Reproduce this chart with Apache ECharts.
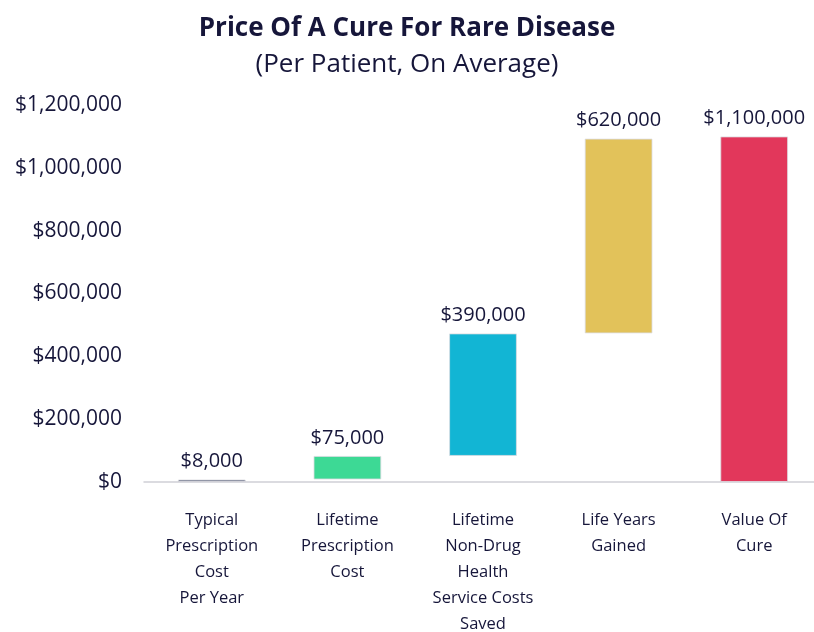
<!DOCTYPE html>
<html>
<head>
<meta charset="utf-8">
<script src="https://cdn.jsdelivr.net/npm/echarts@6/dist/echarts.min.js"></script>
<style>
  html, body { margin: 0; padding: 0; background: #fff; }
  #chart { width: 814px; height: 632px; }
</style>
</head>
<body>
<div id="chart"></div>
<script>
// data
const categories = [
  'Typical\nPrescription\nCost\nPer Year',
  'Lifetime\nPrescription\nCost',
  'Lifetime\nNon-Drug\nHealth\nService Costs\nSaved',
  'Life Years\nGained',
  'Value Of\nCure'
]
const values = [8000, 75000, 390000, 620000, 1100000]
// invisible base each bar floats on (waterfall)
const bases = [0, 8000, 83000, 473000, 0]
const barColors = ['#656b84', '#3dd995', '#12b5d4', '#e2c25a', '#e2375b']
const yTicks = [0, 200000, 400000, 600000, 800000, 1000000, 1200000]

const textColor = '#16163a'
const font = 'Open Sans'

function money(v) {
  return '$' + v.toLocaleString('en-US')
}

const chart = echarts.init(document.getElementById('chart'))

chart.setOption({
  animation: false,
  title: {
    text: 'Price Of A Cure For Rare Disease',
    subtext: '(Per Patient, On Average)',
    left: 'center',
    top: 11,
    itemGap: 10,
    textStyle: { fontFamily: font, fontSize: 26, fontWeight: 'bold', color: textColor },
    subtextStyle: { fontFamily: font, fontSize: 26, color: textColor }
  },
  grid: {
    left: 144,
    top: 105,
    width: 678,
    height: 377,
    containLabel: false,
    outerBoundsMode: 'none'
  },
  xAxis: {
    type: 'category',
    data: categories,
    axisLine: { lineStyle: { color: '#cfd0d6', width: 1.5 } },
    axisTick: { show: false },
    axisLabel: {
      fontFamily: font,
      fontSize: 16.5,
      color: textColor,
      lineHeight: 26,
      margin: 25,
      interval: 0
    }
  },
  yAxis: {
    type: 'value',
    min: yTicks[0],
    max: yTicks[yTicks.length - 1],
    interval: 200000,
    splitLine: { show: false },
    axisLine: { show: false },
    axisTick: { show: false },
    axisLabel: {
      fontFamily: font,
      fontSize: 21,
      color: textColor,
      margin: 22,
      formatter: money
    }
  },
  series: [
    {
      type: 'bar',
      stack: 'w',
      data: bases,
      barWidth: '50%',
      itemStyle: { color: 'transparent' },
      silent: true
    },
    {
      type: 'bar',
      stack: 'w',
      barWidth: '50%',
      data: values.map((v, i) => ({
        value: v,
        itemStyle: { color: barColors[i], borderColor: 'rgba(220,220,225,0.8)', borderWidth: 1 }
      })),
      label: {
        show: true,
        position: 'top',
        distance: 8,
        fontFamily: font,
        fontSize: 20,
        color: textColor,
        formatter: p => money(p.value)
      }
    }
  ]
})
</script>
</body>
</html>
